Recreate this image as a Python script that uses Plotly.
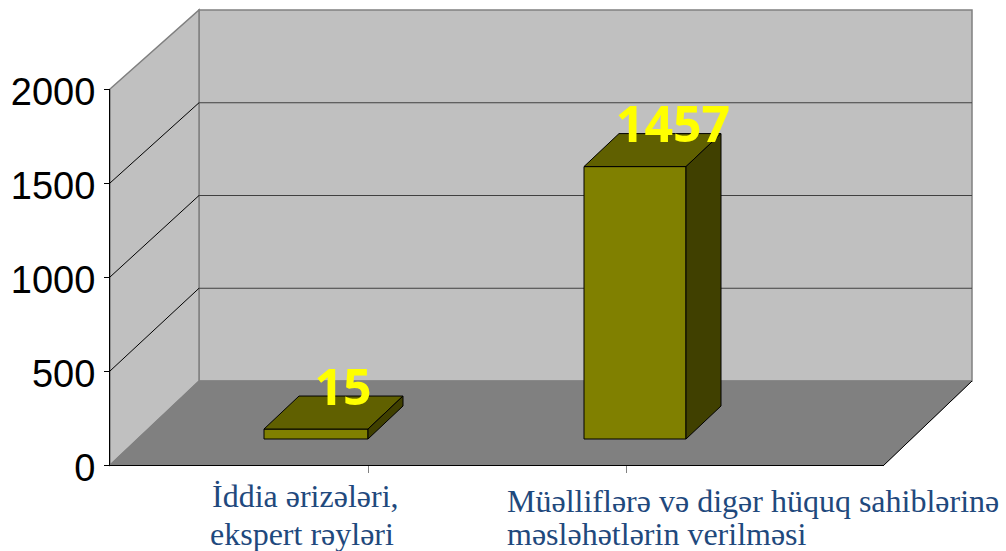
import plotly.graph_objects as go

categories = ["İddia ərizələri,<br>ekspert rəyləri",
              "Müəlliflərə və digər hüquq sahiblərinə<br>məsləhətlərin verilməsi"]
value_labels = ["15", "1457"]
bar_values = [53, 1449]          # heights as drawn in the picture
y_ticks = [0, 500, 1000, 1500, 2000]

W, H = 1006, 551
X0, X1, Y0, Y2000 = 110, 884, 465, 89      # front axis corners (px)
DX, DY = 89, 84                            # wall depth (px)
K = (Y0 - Y2000) / 2000                    # px per unit, front plane
BACK_TOP = 10
BACK_FLOOR = Y0 - DY
KB = (BACK_FLOOR - BACK_TOP) / 2000        # px per unit, back plane


def u(px_y):
    """page pixel row to value units on the full-page y axis"""
    return (Y0 - px_y) / K


bar_left = [264, 584]
bar_right = [368, 686]
bar_floor = 439
bar_dx, bar_dy = 35, 33
label_x = [343, 673]
label_gap = 37

fig = go.Figure()

# ---- walls and floor ----
shapes = []


def poly(pts, fill, line=None, width=1):
    path = "M" + " L".join(f"{x},{u(y)}" for x, y in pts) + " Z"
    shapes.append(dict(type="path", path=path, xref="x", yref="y", fillcolor=fill, layer="below",
                       line=dict(color=line or fill, width=width)))


def seg(x0, y0, x1, y1, color, width=1):
    shapes.append(dict(type="line", xref="x", yref="y", x0=x0, x1=x1, y0=u(y0), y1=u(y1),
                       layer="below", line=dict(color=color, width=width)))


back_left, back_right = X0 + DX, X1 + DX - 1
poly([(back_left, BACK_TOP), (back_right, BACK_TOP),
      (back_right, BACK_FLOOR), (back_left, BACK_FLOOR)], "#c0c0c0", "#808080", 1.5)
poly([(X0, Y2000), (back_left, BACK_TOP), (back_left, BACK_FLOOR), (X0, Y0)],
     "#c0c0c0", "#808080", 1.5)
poly([(X0, Y0), (X1, Y0), (back_right, BACK_FLOOR), (back_left, BACK_FLOOR)], "#808080", "#808080", 1)
for t in y_ticks[1:-1]:
    yb = BACK_FLOOR - t * KB
    seg(back_left, yb, back_right, yb, "#404040", 1)
    seg(X0, Y0 - t * K, back_left, yb, "#000000", 1)
seg(X1, Y0, back_right, BACK_FLOOR, "#000000", 1)

# ---- bar top and side faces ----
for v, l, r in zip(bar_values, bar_left, bar_right):
    top = bar_floor - v * K
    top_pts = [(l, top), (r, top), (r + bar_dx, top - bar_dy), (l + bar_dx, top - bar_dy), (l, top)]
    side_pts = [(r, top), (r + bar_dx, top - bar_dy), (r + bar_dx, bar_floor - bar_dy), (r, bar_floor), (r, top)]
    for pts, col in ((top_pts, "#606000"), (side_pts, "#404000")):
        fig.add_trace(go.Scatter(x=[p[0] for p in pts], y=[u(p[1]) for p in pts], mode="lines",
                                 fill="toself", fillcolor=col, line=dict(color="#000000", width=1),
                                 hoverinfo="skip", showlegend=False))

# ---- bar front faces ----
fig.add_trace(go.Bar(x=[(l + r) / 2 for l, r in zip(bar_left, bar_right)], y=bar_values,
                     base=[u(bar_floor)] * 2, width=[r - l for l, r in zip(bar_left, bar_right)],
                     marker=dict(color="#808000", line=dict(color="#000000", width=1)),
                     showlegend=False, hoverinfo="skip"))

# ---- data labels ----
fig.add_trace(go.Scatter(x=label_x,
                         y=[u(bar_floor - v * K - label_gap) for v in bar_values],
                         mode="text", text=value_labels, textposition="middle center",
                         textfont=dict(family="Open Sans", size=50, color="#ffff00", weight="bold"),
                         showlegend=False, hoverinfo="skip"))

# ---- visible front axes ----
fig.add_trace(go.Scatter(x=[0, 3], y=[0, 2000], xaxis="x2", yaxis="y2", mode="markers",
                         marker=dict(opacity=0), showlegend=False, hoverinfo="skip"))

# ---- category labels, one annotation per line ----
cat_font = dict(family="Liberation Serif", size=32, color="#1f497d")
annotations = []
first, second = categories[0].split("<br>"), categories[1].split("<br>")
for text, cx, cy in zip(first, [305, 302], [496, 534]):
    annotations.append(dict(text=text, xref="x", yref="y", x=cx, y=u(cy), xanchor="center",
                            yanchor="middle", showarrow=False, font=cat_font))
for text, cy in zip(second, [501, 534]):
    annotations.append(dict(text=text, xref="x", yref="y", x=505, y=u(cy), xanchor="left",
                            yanchor="middle", showarrow=False, font=cat_font))

fig.update_layout(
    width=W, height=H, autosize=False,
    margin=dict(l=0, r=0, t=0, b=0),
    paper_bgcolor="#ffffff", plot_bgcolor="rgba(0,0,0,0)",
    shapes=shapes, showlegend=False, barmode="overlay",
    xaxis=dict(range=[0, W], visible=False, domain=[0, 1], fixedrange=True, automargin=False),
    yaxis=dict(range=[u(H), u(0)], visible=False, domain=[0, 1], fixedrange=True, automargin=False),
    xaxis2=dict(domain=[X0 / W, X1 / W], range=[0, 3], anchor="y2", tickmode="array",
                tickvals=[1, 2], ticktext=["", ""], ticks="outside", ticklen=7, tickcolor="#808080",
                showline=True, linecolor="#000000", linewidth=1, showgrid=False, zeroline=False,
                fixedrange=True, automargin=False),
    yaxis2=dict(domain=[(H - Y0) / H, (H - Y2000) / H], range=[0, 2000], anchor="x2",
                tickmode="array", tickvals=y_ticks, ticks="outside", ticklen=5, tickcolor="#000000",
                showline=True, linecolor="#000000", linewidth=1, showgrid=False, zeroline=False,
                tickfont=dict(family="Liberation Sans", size=38, color="#000000"),
                ticklabelstandoff=1, ticklabelshift=3,
                fixedrange=True, automargin=False),
    annotations=annotations,
)

fig.write_html("out.html", config=dict(displayModeBar=False),
               post_script="document.body.style.margin='0';")
